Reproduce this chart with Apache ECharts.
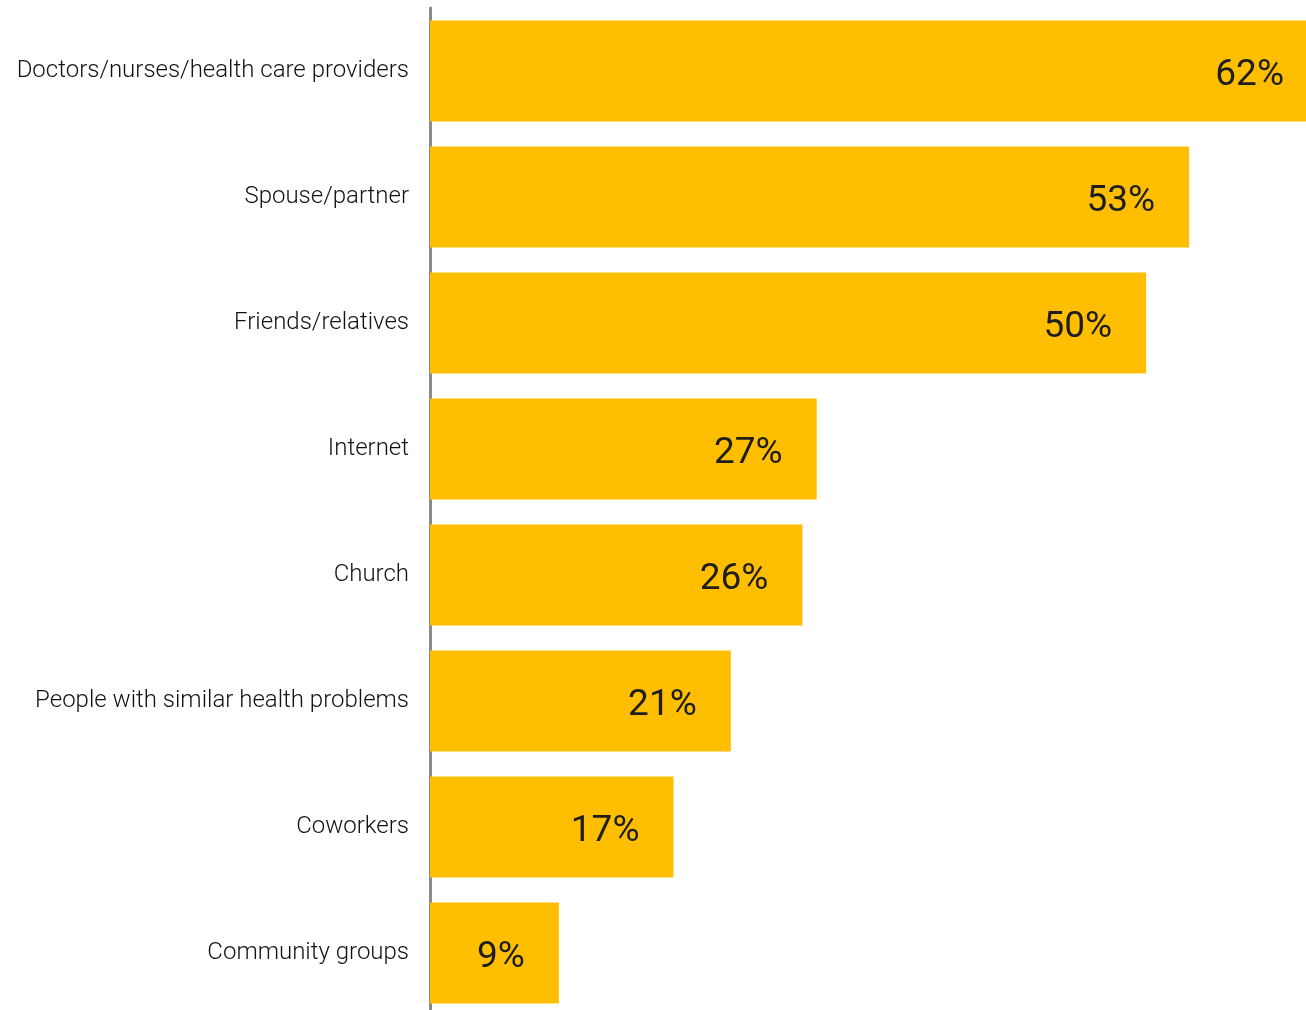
<!DOCTYPE html>
<html>
<head>
<meta charset="utf-8">
<title>Sources of health information</title>
<script src="https://cdn.jsdelivr.net/npm/echarts@6/dist/echarts.min.js"></script>
<style>
  html, body { margin: 0; padding: 0; background: #ffffff; }
  #chart { width: 1306px; height: 1010px; }
</style>
</head>
<body>
<div id="chart"></div>
<script>
// Sources people turn to, share of respondents (%)
const categories = [
  'Doctors/nurses/health care providers',
  'Spouse/partner',
  'Friends/relatives',
  'Internet',
  'Church',
  'People with similar health problems',
  'Coworkers',
  'Community groups'
];
const shares = [62, 53, 50, 27, 26, 21, 17, 9];

const chart = echarts.init(document.getElementById('chart'), null, { renderer: 'canvas' });

chart.setOption({
  animation: false,
  backgroundColor: '#ffffff',
  // the top bar runs past the right edge of the canvas
  grid: {
    left: 430, right: -12, top: 8, height: 1008,
    containLabel: false,
    outerBoundsMode: 'none'
  },
  xAxis: {
    type: 'value',
    min: 0,
    max: 62,
    show: false
  },
  yAxis: {
    type: 'category',
    data: categories,
    inverse: true,
    axisLine: { show: true, lineStyle: { color: '#8a8a8a', width: 3 } },
    axisTick: { show: false },
    splitLine: { show: false },
    axisLabel: {
      margin: 21,
      color: '#111111',
      fontFamily: 'Roboto, sans-serif',
      fontWeight: 300,
      fontSize: 24,
      align: 'right'
    }
  },
  series: [{
    type: 'bar',
    data: shares,
    barCategoryGap: '20%',
    itemStyle: { color: '#FFBF00' },
    label: {
      show: true,
      position: 'insideRight',
      distance: 34,
      offset: [0, 5],
      formatter: '{c}%',
      color: '#1e1e1e',
      fontFamily: 'Roboto, sans-serif',
      fontWeight: 400,
      fontSize: 37
    }
  }]
});
</script>
</body>
</html>
